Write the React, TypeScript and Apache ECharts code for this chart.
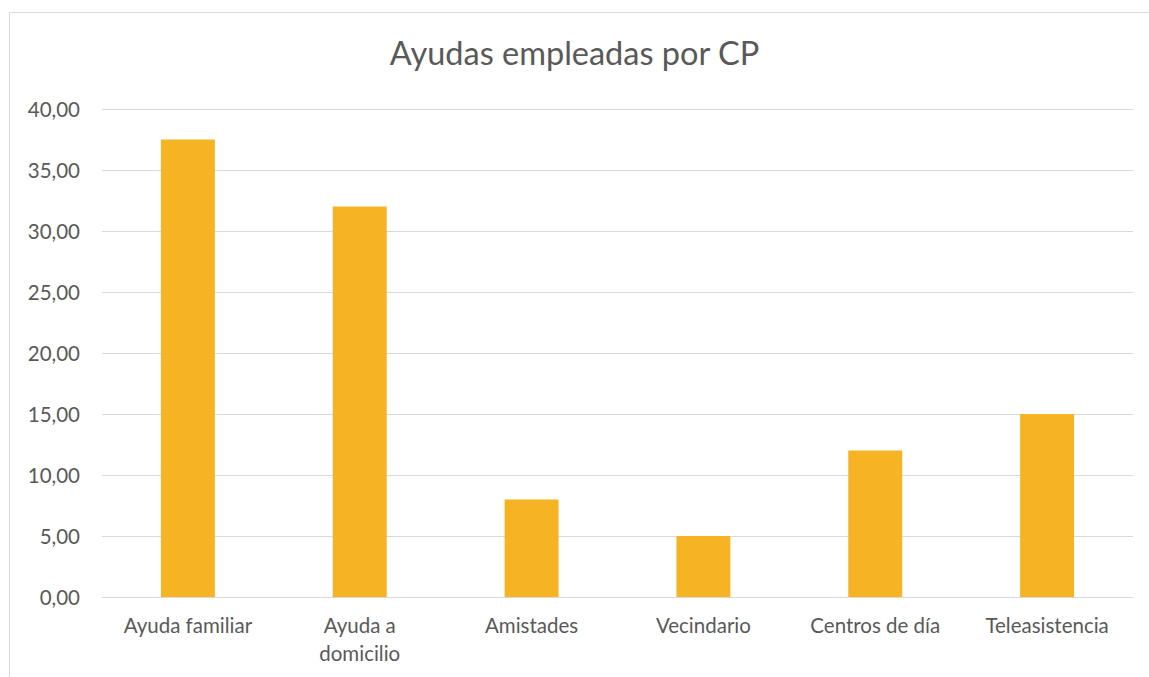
import React, { useEffect, useRef } from "react";
import * as echarts from "echarts";

const categories = ["Ayuda familiar", "Ayuda a domicilio", "Amistades", "Vecindario", "Centros de día", "Teleasistencia"];
const values = [37.5, 32, 8, 5, 12, 15];
const titleText = "Ayudas empleadas por CP";

function wrapLabel(s: string): string {
  if (s.length <= 15) return s;
  const i = s.lastIndexOf(" ");
  return i > 0 ? s.slice(0, i) + "\n" + s.slice(i + 1) : s;
}

export default function App() {
  const ref = useRef<HTMLDivElement>(null);
  useEffect(() => {
    const chart = echarts.init(ref.current!, null, { renderer: "svg" });
    chart.setOption({
      animation: false,
      backgroundColor: "#ffffff",
      textStyle: { fontFamily: "Lato" },
      title: {
        text: titleText,
        left: "center",
        top: 31,
        textStyle: { fontFamily: "Lato", fontSize: 32.5, fontWeight: "normal", color: "#595959" },
      },
      graphic: [
        {
          type: "rect",
          shape: { x: 9.5, y: 12.5, width: 1300, height: 800 },
          style: { fill: "none", stroke: "#d9d9d9", lineWidth: 1 },
          silent: true,
        },
      ],
      grid: { left: 102, right: 16, top: 109, bottom: 80, containLabel: false },
      xAxis: {
        type: "category",
        data: categories,
        axisLine: { show: true, lineStyle: { color: "#d9d9d9", width: 1 } },
        axisTick: { show: false },
        axisLabel: {
          color: "#595959",
          fontSize: 20.5,
          fontFamily: "Lato",
          margin: 14,
          lineHeight: 28,
          interval: 0,
          formatter: (v: string) => wrapLabel(v),
        },
      },
      yAxis: {
        type: "value",
        min: 0,
        max: 40,
        interval: 5,
        axisLine: { show: false },
        axisTick: { show: false },
        splitLine: { lineStyle: { color: "#d9d9d9", width: 1 } },
        axisLabel: {
          color: "#595959",
          fontSize: 20.5,
          fontFamily: "Lato",
          margin: 22,
          formatter: (v: number) => v.toFixed(2).replace(".", ","),
        },
      },
      series: [
        {
          type: "bar",
          data: values,
          barWidth: "31.4%",
          itemStyle: { color: "#F6B323" },
        },
      ],
    });
    return () => chart.dispose();
  }, []);
  return <div ref={ref} style={{ position: "fixed", left: 0, top: 0, width: 1149, height: 677 }} />;
}
